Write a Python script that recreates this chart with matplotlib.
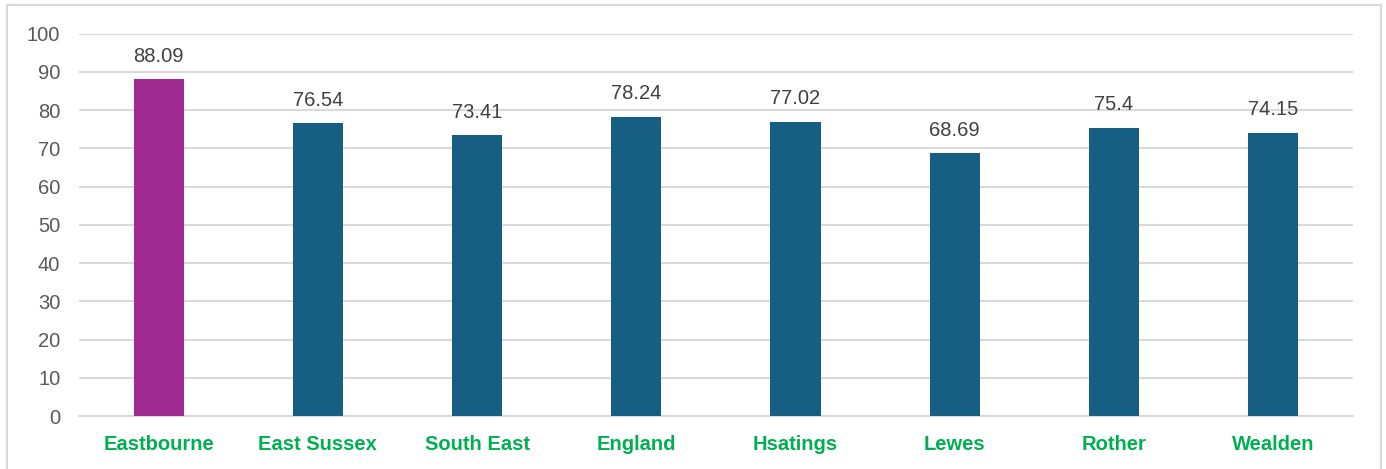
import matplotlib
matplotlib.use('Agg')
from matplotlib import pyplot as plt
from matplotlib.patches import Rectangle

areas = ['Eastbourne', 'East Sussex', 'South East', 'England', 'Hsatings',
         'Lewes', 'Rother', 'Wealden']
values = [88.09, 76.54, 73.41, 78.24, 77.02, 68.69, 75.4, 74.15]
value_labels = ['88.09', '76.54', '73.41', '78.24', '77.02', '68.69', '75.4',
                '74.15']
y_ticks = [0, 10, 20, 30, 40, 50, 60, 70, 80, 90, 100]

plt.rcParams['font.family'] = ['Liberation Sans', 'DejaVu Sans']

fig = plt.figure(figsize=(13.86, 4.69), dpi=100)
ax = fig.add_axes([0.057, 0.113, 0.919, 0.815])

colors = ['#9E2A8F'] + ['#175F82'] * (len(areas) - 1)
x = list(range(len(areas)))
bars = ax.bar(x, values, width=0.315, color=colors, zorder=3)

for xi, v, lab in zip(x, values, value_labels):
    ax.text(xi, v + 3.6, lab, ha='center', va='bottom', fontsize=14.5,
            color='#404040')

ax.set_xlim(-0.5, len(areas) - 0.5)
ax.set_ylim(0, 100)
ax.set_yticks(y_ticks)
ax.set_yticklabels([str(t) for t in y_ticks], fontsize=14.5, color='#595959')
ax.set_xticks(x)
ax.set_xticklabels(areas, fontsize=14.5, fontweight='bold', color='#00B050')
ax.tick_params(axis='both', length=0)
ax.tick_params(axis='x', pad=14)
ax.tick_params(axis='y', pad=13.5)
ax.grid(axis='y', color='#D9D9D9', linewidth=1.5, zorder=0)
for side in ['top', 'right', 'left']:
    ax.spines[side].set_visible(False)
ax.spines['bottom'].set_color('#D9D9D9')
ax.spines['bottom'].set_linewidth(1.5)

# outer chart frame
fig.patches.append(Rectangle((7 / 1386, -0.1), 1374 / 1386, 1.1 - 5 / 469,
                             transform=fig.transFigure, fill=False,
                             edgecolor='#D9D9D9', linewidth=1.5))

plt.savefig('out.png', dpi=100)
plt.close()
